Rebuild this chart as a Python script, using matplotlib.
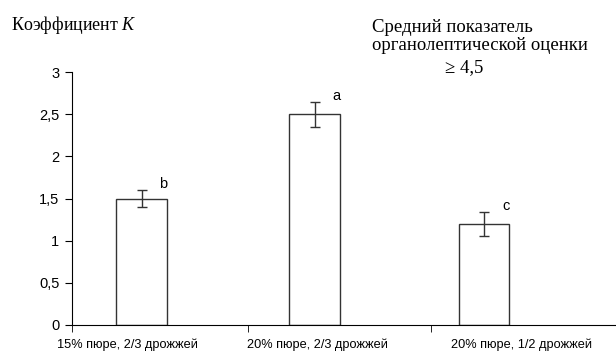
import numpy as np
import matplotlib.pyplot as plt

categories = ['15% пюре, 2/3 дрожжей', '20% пюре, 2/3 дрожжей', '20% пюре, 1/2 дрожжей']
values = [1.5, 2.5, 1.2]
errors = [0.1, 0.15, 0.14]
letters = ['b', 'a', 'c']

plt.rcParams['font.family'] = ['Liberation Sans', 'DejaVu Sans']
plt.rcParams['mathtext.fontset'] = 'custom'
plt.rcParams['mathtext.it'] = 'Liberation Serif:italic'
plt.rcParams['mathtext.rm'] = 'Liberation Serif'

fig = plt.figure(figsize=(6.16, 3.56), dpi=100)
ax = fig.add_axes([72/616, 31/356, 544/616, 253/356])

idx = np.arange(len(values))
bar_x = idx + np.array([-0.115, -0.161, -0.228])
lab_x = idx + np.array([-0.197, -0.149, -0.023])

ax.bar(bar_x, values, 0.28, color='white', edgecolor='#333333', linewidth=1.0)
ax.errorbar(bar_x, values, yerr=errors, fmt='none', ecolor='#333333',
            elinewidth=1.0, capsize=3.5, capthick=1.0)
for x, v, e, l in zip(bar_x, values, errors, letters):
    ax.text(x + 0.12, v + e + 0.07, l, fontsize=10.5, ha='center', va='center')

ax.set_xlim(-0.5, 2.5)
ax.set_ylim(0, 3)
ax.set_yticks(np.arange(0, 3.01, 0.5))
ax.set_yticklabels(['0', '0,5', '1', '1,5', '2', '2,5', '3'], fontsize=10.5)
ax.set_xticks(lab_x)
ax.set_xticklabels(categories, fontsize=9.2)
ax.tick_params(axis='x', which='major', length=0, pad=10)
ax.set_xticks([-0.5, 0.471, 1.48], minor=True)
ax.tick_params(axis='x', which='minor', length=5, direction='out')
ax.tick_params(axis='y', length=5, direction='out', pad=4)
for s in ['top', 'right']:
    ax.spines[s].set_visible(False)
for s in ['left', 'bottom']:
    ax.spines[s].set_linewidth(0.8)

serif = ['Liberation Serif', 'DejaVu Serif']
fig.text(11/616, 1 - 29.5/356, 'Коэффициент $\\mathit{K}$', family=serif, fontsize=13,
         va='baseline', ha='left')
fig.text(372/616, 1 - 31.5/356, 'Средний показатель', family=serif, fontsize=13.5,
         va='baseline', ha='left')
fig.text(372/616, 1 - 50/356, 'органолептической оценки', family=serif, fontsize=13.5,
         va='baseline', ha='left')
fig.text(464/616, 1 - 72/356, '≥ 4,5', family=serif, fontsize=13.5,
         va='baseline', ha='center')

fig.savefig('out.png', dpi=100)
